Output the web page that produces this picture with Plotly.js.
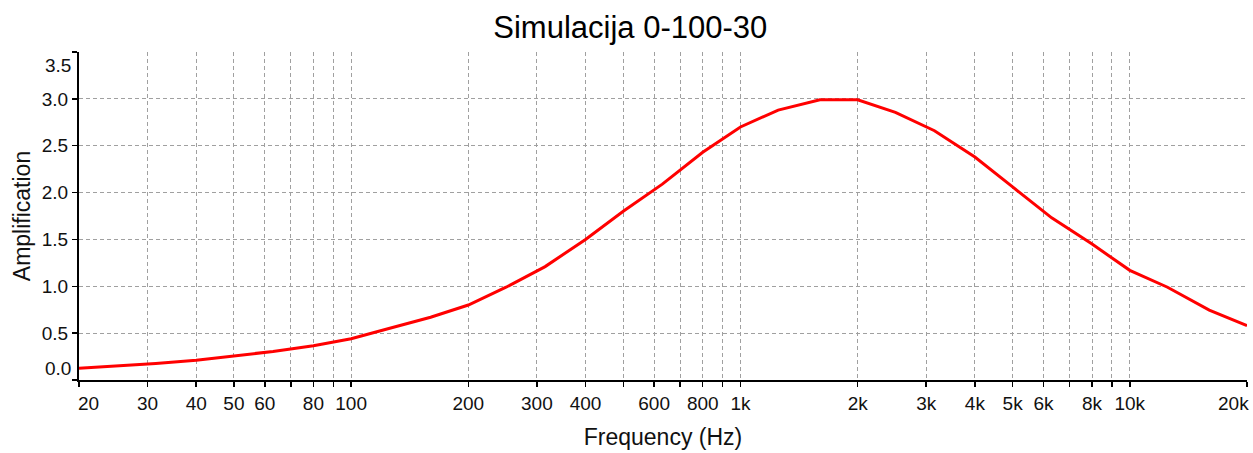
<!DOCTYPE html>
<html>
<head>
<meta charset="utf-8">
<script src="https://cdn.plot.ly/plotly-3.0.1.min.js"></script>
<style>
  html, body { margin: 0; padding: 0; background: #ffffff; }
  #chart { width: 1253px; height: 453px; }
</style>
</head>
<body>
<div id="chart"></div>
<script>
// ---- data ----
const chartTitle = 'Simulacija 0-100-30';
const xTitle = 'Frequency (Hz)';
const yTitle = 'Amplification';

const freqHz = [20, 25, 31.5, 40, 50, 63, 80, 100, 125, 160, 200, 250, 315, 400, 500, 630, 800, 1000, 1250, 1600, 2000, 2500, 3150, 4000, 5000, 6300, 8000, 10000, 12500, 16000, 20000];
const amplification = [0.125, 0.15, 0.175, 0.21, 0.255, 0.305, 0.365, 0.44, 0.55, 0.67, 0.80, 0.99, 1.21, 1.50, 1.80, 2.09, 2.43, 2.70, 2.88, 2.99, 2.99, 2.855, 2.66, 2.38, 2.06, 1.73, 1.45, 1.17, 0.99, 0.745, 0.58];

const xTickVals = [20, 30, 40, 50, 60, 70, 80, 90, 100, 200, 300, 400, 500, 600, 700, 800, 900, 1000, 2000, 3000, 4000, 5000, 6000, 7000, 8000, 9000, 10000, 20000];
const xTickText = ['20', '30', '40', '50', '60', '', '80', '', '100', '200', '300', '400', '', '600', '', '800', '', '1k', '2k', '3k', '4k', '5k', '6k', '', '8k', '', '10k', '20k'];

const yTickVals = [0, 0.5, 1.0, 1.5, 2.0, 2.5, 3.0, 3.5];
const yTickText = ['0.0', '0.5', '1.0', '1.5', '2.0', '2.5', '3.0', '3.5'];

// ---- styling ----
const FONT = '"Liberation Sans", Arial, sans-serif';
const TXT = '#111111';
const GRID = '#a0a0a0';
const TICKSIZE = 19;

const xMin = xTickVals[0], xMax = xTickVals[xTickVals.length - 1];
const yMin = yTickVals[0], yMax = yTickVals[yTickVals.length - 1];

// edge labels are drawn inside the plot range (as in the original), so blank them on the axis
const xTextAxis = xTickText.map((t, i) => (i === 0 || i === xTickText.length - 1) ? '' : t);
const yTextAxis = yTickText.map((t, i) => (i === 0 || i === yTickText.length - 1) ? '' : t);

const annotations = [
  { xref: 'x', yref: 'paper', x: Math.log10(xMin), y: 0, text: xTickText[0], showarrow: false,
    xanchor: 'left', yanchor: 'top', xshift: -3, yshift: -11, font: { family: FONT, size: TICKSIZE, color: TXT } },
  { xref: 'x', yref: 'paper', x: Math.log10(xMax), y: 0, text: xTickText[xTickText.length - 1], showarrow: false,
    xanchor: 'right', yanchor: 'top', xshift: 4, yshift: -11, font: { family: FONT, size: TICKSIZE, color: TXT } },
  { xref: 'paper', yref: 'y', x: 0, y: yMin, text: yTickText[0], showarrow: false,
    xanchor: 'right', yanchor: 'middle', xshift: -6, yshift: 12, font: { family: FONT, size: TICKSIZE, color: TXT } },
  { xref: 'paper', yref: 'y', x: 0, y: yMax, text: yTickText[yTickText.length - 1], showarrow: false,
    xanchor: 'right', yanchor: 'middle', xshift: -6, yshift: -13, font: { family: FONT, size: TICKSIZE, color: TXT } }
];

const trace = {
  type: 'scatter',
  mode: 'lines',
  x: freqHz,
  y: amplification,
  line: { color: '#ff0000', width: 3 },
  hoverinfo: 'x+y'
};

const layout = {
  width: 1253,
  height: 453,
  paper_bgcolor: '#ffffff',
  plot_bgcolor: '#ffffff',
  margin: { l: 79, r: 6, t: 52, b: 73, pad: 0 },
  showlegend: false,
  font: { family: FONT, color: TXT },
  title: {
    text: chartTitle,
    font: { family: FONT, size: 31, color: '#000000' },
    x: 0.503, xanchor: 'center',
    y: 1 - 27 / 453, yanchor: 'middle', yref: 'container'
  },
  xaxis: {
    type: 'log',
    range: [Math.log10(xMin), Math.log10(xMax)],
    tickmode: 'array',
    tickvals: xTickVals,
    ticktext: xTextAxis,
    ticks: 'outside', ticklen: 5, tickwidth: 1.5, tickcolor: '#000000',
    tickfont: { family: FONT, size: TICKSIZE, color: TXT },
    showline: true, linecolor: '#000000', linewidth: 2,
    showgrid: true, gridcolor: GRID, gridwidth: 1, griddash: '4px,3px',
    zeroline: false,
    title: { text: xTitle, font: { family: FONT, size: 23, color: TXT }, standoff: 16 }
  },
  yaxis: {
    range: [yMin, yMax],
    tickmode: 'array',
    tickvals: yTickVals,
    ticktext: yTextAxis,
    ticks: 'outside', ticklen: 5, tickwidth: 1.5, tickcolor: '#000000',
    tickfont: { family: FONT, size: TICKSIZE, color: TXT },
    showline: true, linecolor: '#000000', linewidth: 2,
    showgrid: true, gridcolor: GRID, gridwidth: 1, griddash: '4px,3px',
    zeroline: false,
    title: { text: yTitle, font: { family: FONT, size: 23, color: TXT }, standoff: 5 }
  },
  annotations: annotations
};

Plotly.newPlot('chart', [trace], layout, { displayModeBar: false, staticPlot: true });
</script>
</body>
</html>
